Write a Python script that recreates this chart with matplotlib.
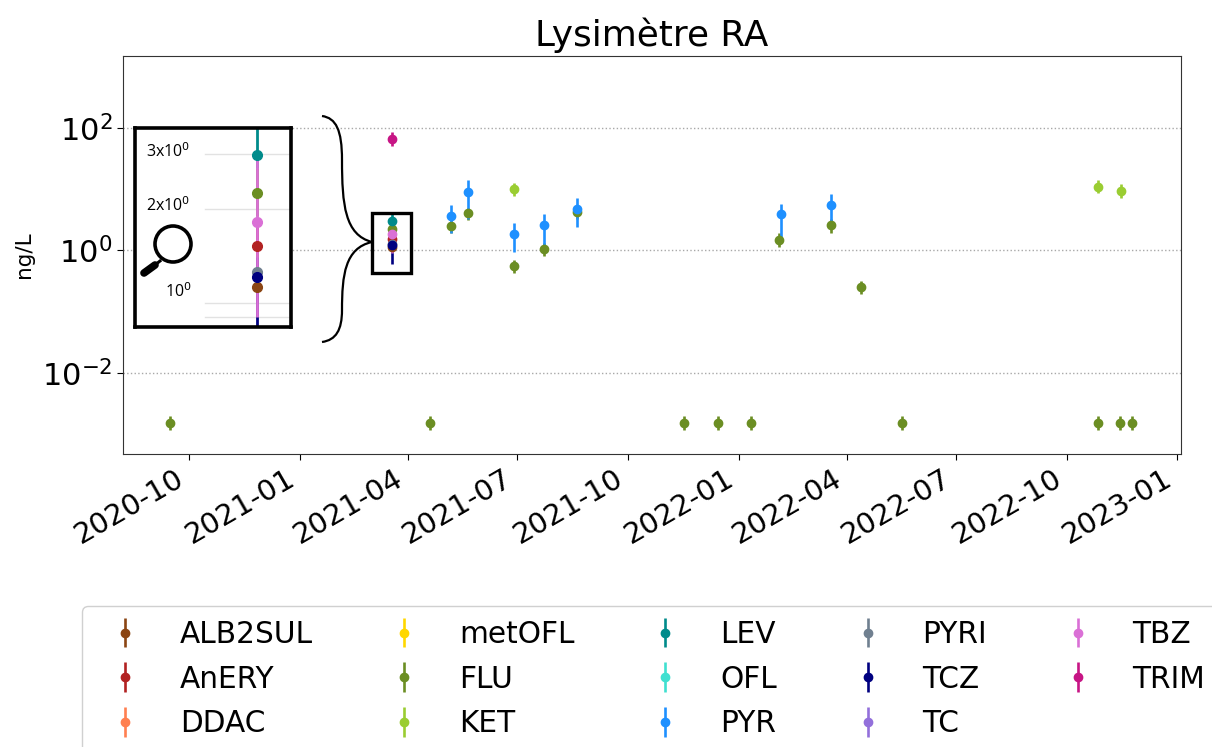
import matplotlib
matplotlib.use("Agg")
import matplotlib.pyplot as plt
import matplotlib.dates as mdates
from matplotlib.path import Path
from matplotlib.patches import PathPatch, Rectangle, Circle
from matplotlib.lines import Line2D
from matplotlib.ticker import FixedLocator, NullLocator, LogFormatterMathtext
from datetime import datetime as D

names = ["ALB2SUL", "AnERY", "DDAC", "metOFL", "FLU", "KET", "LEV", "OFL",
         "PYR", "PYRI", "TCZ", "TC", "TBZ", "TRIM"]
colors = ["#8B4513", "#B22222", "#FF7F50", "#FFD700", "#6B8E23", "#9ACD32", "#008B8B",
          "#40E0D0", "#1E90FF", "#708090", "#000080", "#9370DB", "#DA70D6", "#C71585"]

d_cluster = "2021-03-19"

alb_dates = [d_cluster]; alb_vals = [1.125]; alb_lo = [1.0]; alb_hi = [1.25]
any_dates = [d_cluster]; any_vals = [1.52]; any_lo = [1.25]; any_hi = [1.8]
flu_dates = ["2020-09-15", d_cluster, "2021-04-19", "2021-05-07", "2021-05-21", "2021-06-28",
             "2021-07-23", "2021-08-20", "2021-11-17", "2021-12-15", "2022-01-11", "2022-02-04",
             "2022-03-19", "2022-04-13", "2022-05-17", "2022-10-27", "2022-11-14", "2022-11-24"]
flu_vals = [0.00155, 2.25, 0.00155, 2.46, 4.0, 0.55, 1.04, 4.2, 0.00155, 0.00155, 0.00155, 1.5,
            2.55, 0.25, 0.00155, 0.00155, 0.00155, 0.00155]
flu_lo = [0.0012, 1.9, 0.0012, 1.95, 3.1, 0.43, 0.8, 3.3, 0.0012, 0.0012, 0.0012, 1.15,
          1.95, 0.195, 0.0012, 0.0012, 0.0012, 0.0012]
flu_hi = [0.0020, 2.7, 0.0020, 3.0, 5.0, 0.7, 1.3, 5.3, 0.0020, 0.0020, 0.0020, 1.9,
          3.2, 0.32, 0.0020, 0.0020, 0.0020, 0.0020]
ket_dates = ["2021-06-28", "2022-10-27", "2022-11-15"]
ket_vals = [9.9, 11.0, 9.2]; ket_lo = [7.8, 8.6, 7.2]; ket_hi = [12.8, 14.0, 11.9]
lev_dates = [d_cluster]; lev_vals = [2.98]; lev_lo = [2.7]; lev_hi = [3.9]
pyr_dates = ["2021-05-07", "2021-05-21", "2021-06-28", "2021-07-23", "2021-08-20", "2022-02-05", "2022-03-19"]
pyr_vals = [3.6, 8.9, 1.84, 2.56, 4.66, 3.86, 5.4]
pyr_lo = [1.9, 3.3, 0.94, 1.2, 2.4, 1.3, 2.4]
pyr_hi = [5.6, 13.8, 2.8, 3.9, 7.1, 5.8, 8.2]
pyri_dates = [d_cluster]; pyri_vals = [1.26]; pyri_lo = [1.1]; pyri_hi = [1.4]
tcz_dates = [d_cluster]; tcz_vals = [1.21]; tcz_lo = [0.61]; tcz_hi = [1.4]
tbz_dates = [d_cluster]; tbz_vals = [1.82]; tbz_lo = [0.9]; tbz_hi = [2.9]
trim_dates = [d_cluster]; trim_vals = [66.0]; trim_lo = [51.0]; trim_hi = [85.0]
empty = ([], [], [], [])

series = {
    "ALB2SUL": (alb_dates, alb_vals, alb_lo, alb_hi),
    "AnERY": (any_dates, any_vals, any_lo, any_hi),
    "DDAC": empty,
    "metOFL": empty,
    "FLU": (flu_dates, flu_vals, flu_lo, flu_hi),
    "KET": (ket_dates, ket_vals, ket_lo, ket_hi),
    "LEV": (lev_dates, lev_vals, lev_lo, lev_hi),
    "OFL": empty,
    "PYR": (pyr_dates, pyr_vals, pyr_lo, pyr_hi),
    "PYRI": (pyri_dates, pyri_vals, pyri_lo, pyri_hi),
    "TCZ": (tcz_dates, tcz_vals, tcz_lo, tcz_hi),
    "TC": empty,
    "TBZ": (tbz_dates, tbz_vals, tbz_lo, tbz_hi),
    "TRIM": (trim_dates, trim_vals, trim_lo, trim_hi),
}

W, H = 1212, 747
def px(x, y):
    return x / W, 1 - y / H

def draw(ax, ms, lw):
    for name, col in zip(names, colors):
        ds, v, lo, hi = series[name]
        x = [D.fromisoformat(s) for s in ds]
        err = [[a - b for a, b in zip(v, lo)], [b - a for a, b in zip(v, hi)]]
        ax.errorbar(x, v, yerr=err, fmt="o", color=col, ms=ms, elinewidth=lw, label=name)

fig = plt.figure(figsize=(W / 100, H / 100), dpi=100)
ax = fig.add_axes([123 / W, 1 - 454 / H, (1181 - 123) / W, (454 - 56) / H])
ax.set_yscale("log")
draw(ax, 6.0, 1.9)
ax.set_ylim(10 ** -3.32, 10 ** 3.17)
ax.set_xlim(D(2020, 8, 7), D(2023, 1, 4))
ax.yaxis.set_major_locator(FixedLocator([1e-2, 1, 1e2]))
ax.yaxis.set_major_formatter(LogFormatterMathtext())
ax.yaxis.set_minor_locator(NullLocator())
ax.xaxis.set_major_locator(mdates.MonthLocator(bymonth=[1, 4, 7, 10]))
ax.xaxis.set_major_formatter(mdates.DateFormatter("%Y-%m"))
ax.tick_params(axis="both", labelsize=21, length=4, width=0.8)
ax.tick_params(axis="y", labelsize=22)
plt.setp(ax.get_xticklabels(), rotation=30, ha="right", rotation_mode="default")
ax.grid(axis="y", ls=":", color="#a8a8a8", lw=1)
ax.set_axisbelow(True)
ax.set_title("Lysimètre RA", fontsize=25.8, pad=7.5)
ax.set_ylabel("ng/L", fontsize=15.5, labelpad=6)
for s in ax.spines.values():
    s.set_linewidth(0.8)
    s.set_color("#333333")

fig.legend(*ax.get_legend_handles_labels(), loc="upper left", bbox_to_anchor=px(82, 606),
           bbox_transform=fig.transFigure, ncol=5, fontsize=21.3, frameon=True, borderaxespad=0,
           handlelength=2, handletextpad=0.85, columnspacing=2.07, labelspacing=0.53,
           borderpad=0.47, edgecolor="#d0d0d0", framealpha=1)

# zoomed inset
ins = fig.add_axes([135 / W, 1 - 327 / H, (291 - 135) / W, (327 - 128) / H], zorder=3)
ins.set_yscale("log")
ins.set_ylim(0.838, 3.64)
c = mdates.date2num(D.fromisoformat(d_cluster))
ins.set_xlim(c - 0.782 * 4, c + 0.218 * 4)
for v in [3, 2, 1, 0.9]:
    ins.axhline(v, xmin=0.45, color="#e2e2e2", lw=1, zorder=0)
draw(ins, 7, 2.0)
ins.set_xticks([]); ins.set_yticks([])
ins.yaxis.set_minor_locator(NullLocator())
for s in ins.spines.values():
    s.set_linewidth(2.6)
    s.set_color("black")

for label, x, y in [("3x10$^{0}$", 146, 152), ("2x10$^{0}$", 146, 206), ("10$^{0}$", 165, 292)]:
    fx, fy = px(x, y)
    fig.text(fx, fy, label, fontsize=11.5, family="Open Sans", va="center", ha="left",
             zorder=5, math_fontfamily="dejavusans")

# highlight box around the cluster
fx, fy = px(372, 273)
fig.add_artist(Rectangle((fx, fy), 39 / W, 60 / H, transform=fig.transFigure, fill=False,
                         ec="black", lw=2.4, zorder=4))

# curly brace
def brace(points, cds):
    fig.add_artist(PathPatch(Path([px(*p) for p in points], cds), transform=fig.transFigure,
                             fill=False, ec="black", lw=1.6, zorder=4))
C = Path.CURVE4
brace([(322, 116), (336, 118), (342, 130), (342, 160), (342, 205), (345, 235), (372, 242)],
      [Path.MOVETO, C, C, C, C, C, C])
brace([(372, 242), (345, 248), (342, 275), (342, 310), (342, 330), (336, 340), (322, 342)],
      [Path.MOVETO, C, C, C, C, C, C])

# magnifying glass
fig.add_artist(Circle((173, H - 244), 18, transform=None, fill=False, ec="black", lw=2.6, zorder=6))
fig.add_artist(Line2D([px(160, 261)[0], px(155, 265)[0]], [px(160, 261)[1], px(155, 265)[1]],
                      color="black", lw=2.2, zorder=6))
fig.add_artist(Line2D([px(155, 265)[0], px(144, 273)[0]], [px(155, 265)[1], px(144, 273)[1]],
                      color="black", lw=5.5, solid_capstyle="round", zorder=6))

fig.savefig("out.png", dpi=100)
